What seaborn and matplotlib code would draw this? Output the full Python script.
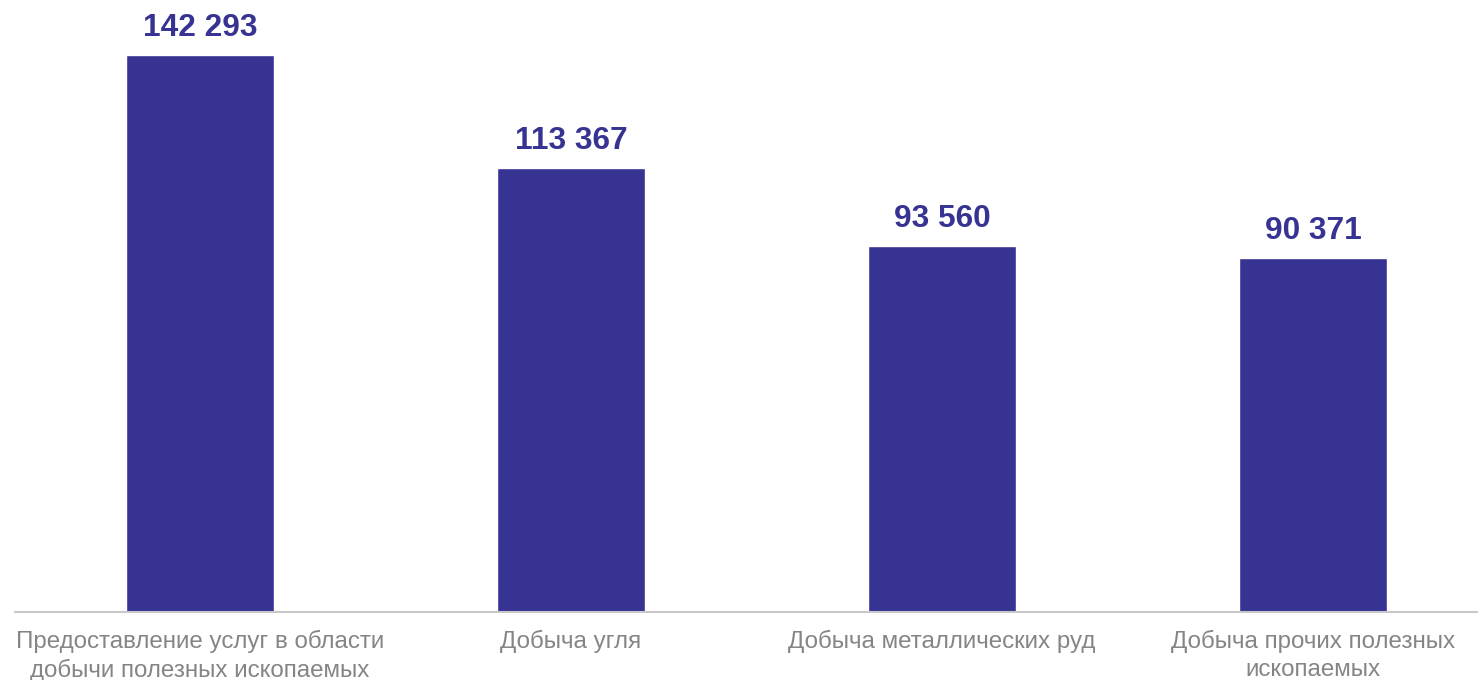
import matplotlib
matplotlib.use("Agg")
import matplotlib.pyplot as plt
import seaborn as sns
import pandas as pd

# data
categories = [
    "Предоставление услуг в области\nдобычи полезных ископаемых",
    "Добыча угля",
    "Добыча металлических руд",
    "Добыча прочих полезных\nископаемых",
]
values = [142293, 113367, 93560, 90371]

bar_color = "#373393"
label_color = "#858585"

sns.set_theme(style="white")
plt.rcParams["font.family"] = ["Liberation Sans", "DejaVu Sans"]

df = pd.DataFrame({"cat": categories, "val": values})

fig = plt.figure(figsize=(14.78, 6.8), dpi=100)
ax = fig.add_axes([14.5 / 1478, 0.1, (1478 - 14.5) / 1478, 0.9])

sns.barplot(data=df, x="cat", y="val", color=bar_color, width=0.4,
            saturation=1, ax=ax)

ax.set_xlim(-0.5, 3 + (1478 - 1313) / 371)
ax.set_ylim(0, 156343)

for i, v in enumerate(values):
    ax.annotate(f"{v:,}".replace(",", " "), (i, v), xytext=(0, 13.5),
                textcoords="offset points", ha="center", va="baseline",
                fontsize=22.8, fontweight="bold", color=bar_color)

ax.set_xlabel("")
ax.set_ylabel("")
ax.set_yticks([])
for s in ["top", "left", "right"]:
    ax.spines[s].set_visible(False)
ax.spines["bottom"].set_color("#c8c8c8")
ax.spines["bottom"].set_linewidth(1.5)
ax.tick_params(axis="x", length=0, pad=13, labelsize=17.4, labelcolor=label_color)
for t in ax.get_xticklabels():
    t.set_multialignment("center")
    t.set_linespacing(1.32)

fig.savefig("out.png", dpi=100)
